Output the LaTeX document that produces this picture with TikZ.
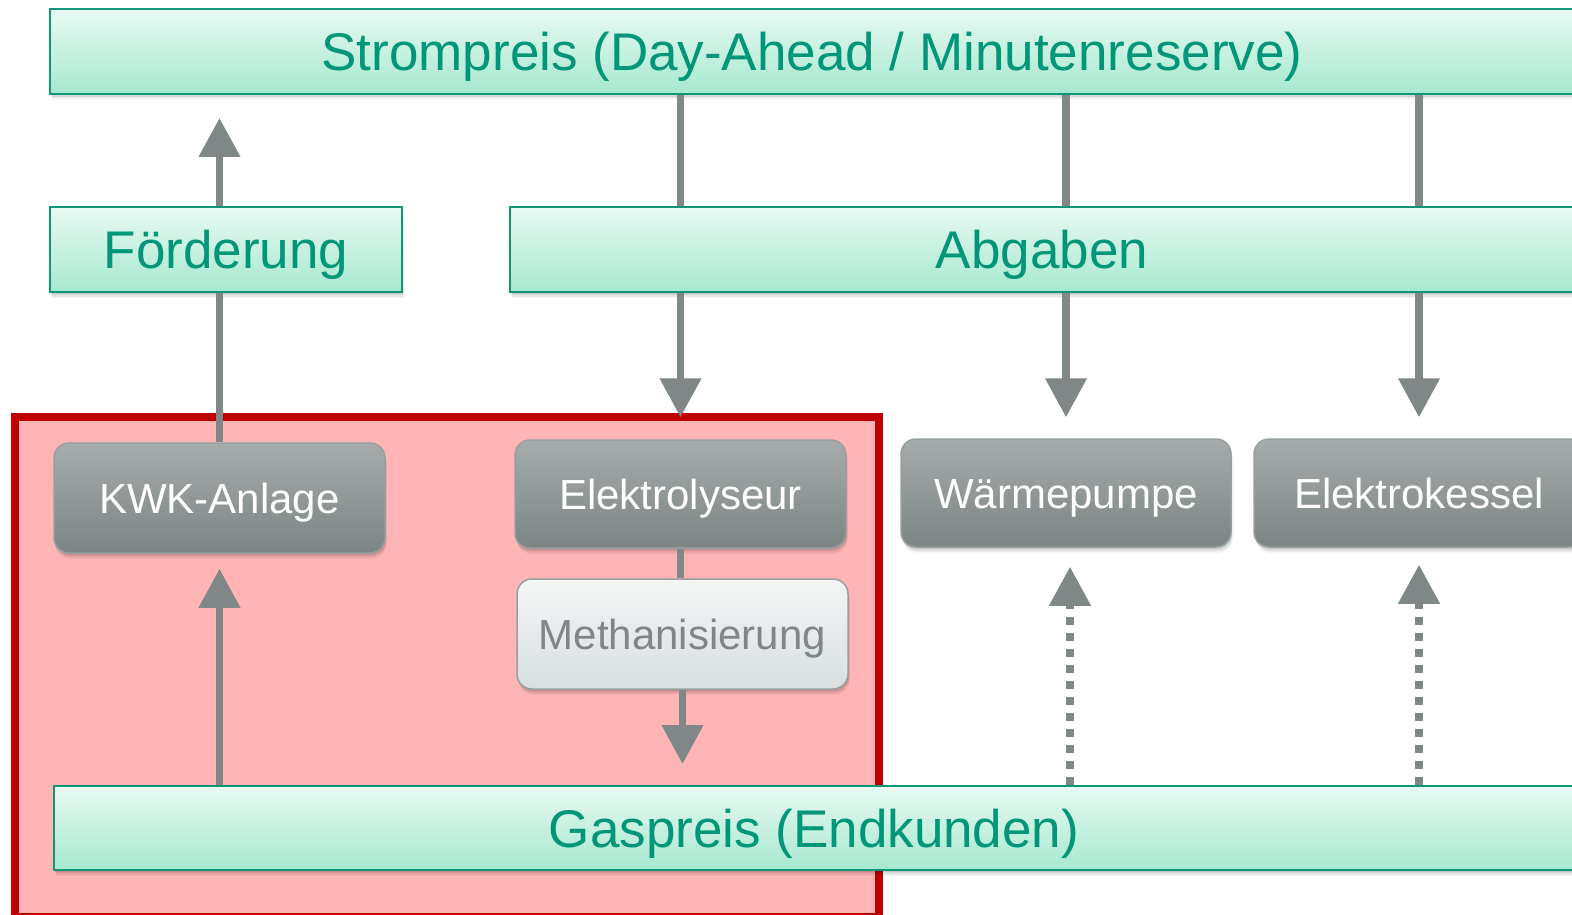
\documentclass[tikz,border=0pt]{standalone}
\usepackage{fontspec}
\setmainfont{Liberation Sans}
\usetikzlibrary{arrows.meta,shadows,calc}
\definecolor{barborder}{RGB}{14,150,118}
\definecolor{bartext}{RGB}{0,150,120}
\definecolor{bartop}{RGB}{232,249,242}
\definecolor{barbot}{RGB}{166,232,207}
\definecolor{graytop}{RGB}{166,172,171}
\definecolor{graybot}{RGB}{124,132,132}
\definecolor{grayborder}{RGB}{150,160,160}
\definecolor{lighttop}{RGB}{244,246,246}
\definecolor{lightbot}{RGB}{216,222,222}
\definecolor{lighttext}{RGB}{128,133,133}
\definecolor{arrowgray}{RGB}{127,135,135}
\definecolor{redborder}{RGB}{192,0,0}
\definecolor{redfill}{RGB}{255,180,182}
\tikzset{
  shad/.style={
    drop shadow={shadow xshift=0.5pt, shadow yshift=-1.5pt, opacity=0.07, fill=black},
    drop shadow={shadow xshift=1pt, shadow yshift=-3pt, opacity=0.07, fill=black},
    drop shadow={shadow xshift=1.5pt, shadow yshift=-4.5pt, opacity=0.06, fill=black},
    drop shadow={shadow xshift=1.5pt, shadow yshift=-6pt, opacity=0.04, fill=black}},
  bar/.style={shad, draw=barborder, line width=2pt, top color=bartop, bottom color=barbot,
    text=bartext, font=\fontsize{53}{60}\selectfont, text height=38pt, text depth=0pt,
    inner sep=0pt, minimum height=85pt},
  unit/.style={shad, draw=grayborder, line width=1.5pt, rounded corners=15pt, top color=graytop,
    bottom color=graybot, text=white, font=\fontsize{42}{48}\selectfont, text height=30pt,
    text depth=0pt, inner sep=0pt, minimum width=331pt, minimum height=109pt},
  lightunit/.style={unit, top color=lighttop, bottom color=lightbot, text=lighttext},
  region/.style={draw=redborder, fill=redfill, line width=7.5pt, inner sep=0pt},
  link/.style={draw=arrowgray, line width=7.5pt},
  flow/.style={link, -{Triangle[width=40pt,length=39pt]}},
  dflow/.style={flow, line width=7.5pt, dash pattern=on 8pt off 8pt}
}
\begin{document}
\begin{tikzpicture}[x=1pt,y=-1pt]
\clip (0,0) rectangle (1572,915);
\fill[white] (0,0) rectangle (1572,915);
% region
\node[region, minimum width=864pt, minimum height=500pt] (reg) at (447,667) {};
% bars
\node[bar, minimum width=1524pt] (strom) at (812,51.5) {Strompreis (Day-Ahead / Minutenreserve)};
\node[bar, minimum width=352pt] (foerd) at (226,249.5) {Förderung};
\node[bar, minimum width=1064pt] (abg) at (1042,249.5) {Abgaben};
\node[bar, minimum width=1520pt, minimum height=84pt] (gas) at (814,828) {Gaspreis (Endkunden)};
% units
\node[unit, minimum height=110pt] (kwk) at (219.5,498) {KWK-Anlage};
\node[unit, minimum height=108pt] (elek) at (680.5,494) {Elektrolyseur};
\node[lightunit, minimum height=110pt] (meth) at (682.5,634) {Methanisierung};
\node[unit, minimum width=330pt, minimum height=108pt] (wp) at (1066,493) {Wärmepumpe};
\node[unit, minimum width=330pt, minimum height=108pt] (ek) at (1419,493) {Elektrokessel};
% connectors
\draw[link] (kwk.north) -- (kwk.north |- foerd.south);
\draw[flow, shorten >=23pt] (kwk.north |- foerd.north) -- (kwk.north |- strom.south);
\draw[flow, shorten >=15pt] (kwk.south |- gas.north) -- (kwk.south);
\draw[link] (elek.north |- strom.south) -- (elek.north |- abg.north);
\draw[flow, shorten >=22pt] (elek.north |- abg.south) -- (elek.north);
\draw[link] (wp.north |- strom.south) -- (wp.north |- abg.north);
\draw[flow, shorten >=21pt] (wp.north |- abg.south) -- (wp.north);
\draw[link] (ek.north |- strom.south) -- (ek.north |- abg.north);
\draw[flow, shorten >=21pt] (ek.north |- abg.south) -- (ek.north);
\draw[link] (elek.south) -- (elek.south |- meth.north);
\draw[flow, shorten >=21pt] (meth.south) -- (meth.south |- gas.north);
\draw[dflow, shorten >=19pt] ($(wp.south |- gas.north)+(4,0)$) -- ($(wp.south)+(4,0)$);
\draw[dflow, shorten >=17pt] (ek.south |- gas.north) -- (ek.south);
\end{tikzpicture}
\end{document}
